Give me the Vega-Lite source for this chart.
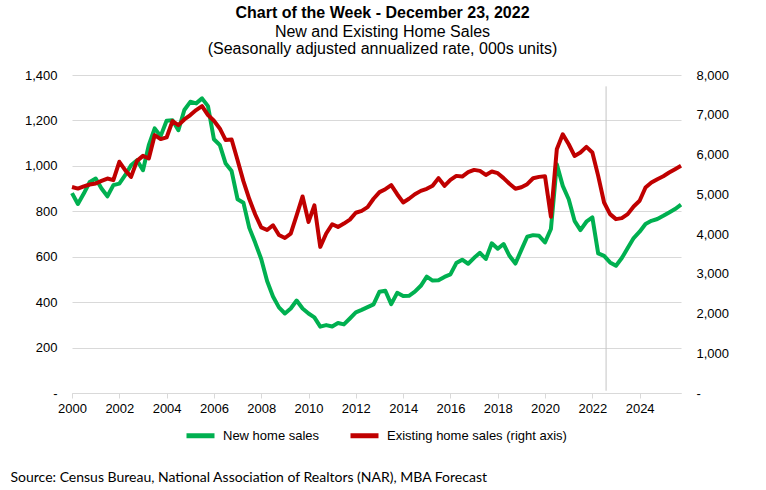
{
"$schema": "https://vega.github.io/schema/vega-lite/v6.json",
"width": 609, "height": 318,
"autosize": {"type": "none"},
"padding": {"left": 72, "top": 75, "right": 85, "bottom": 97},
"background": "white",
"title": {"text": "Chart of the Week - December 23, 2022", "subtitle": ["New and Existing Home Sales", "(Seasonally adjusted annualized rate, 000s units)"], "anchor": "middle", "dx": 6, "offset": 12, "font": "Liberation Sans", "fontSize": 16, "fontWeight": "bold", "color": "#000", "subtitleFont": "Liberation Sans", "subtitleFontSize": 16, "subtitleColor": "#000", "subtitleLineHeight": 17, "subtitlePadding": 3},
"data": {"values": [
{"date":"2000-01-01","new":880,"existing":5183},
{"date":"2000-04-01","new":832,"existing":5143},
{"date":"2000-07-01","new":878,"existing":5200},
{"date":"2000-10-01","new":929,"existing":5245},
{"date":"2001-01-01","new":944,"existing":5270},
{"date":"2001-04-01","new":900,"existing":5336},
{"date":"2001-07-01","new":866,"existing":5395},
{"date":"2001-10-01","new":915,"existing":5355},
{"date":"2002-01-01","new":922,"existing":5817},
{"date":"2002-04-01","new":959,"existing":5606},
{"date":"2002-07-01","new":1003,"existing":5437},
{"date":"2002-10-01","new":1025,"existing":5840},
{"date":"2003-01-01","new":981,"existing":5966},
{"date":"2003-04-01","new":1091,"existing":5899},
{"date":"2003-07-01","new":1165,"existing":6487},
{"date":"2003-10-01","new":1131,"existing":6387},
{"date":"2004-01-01","new":1199,"existing":6429},
{"date":"2004-04-01","new":1201,"existing":6840},
{"date":"2004-07-01","new":1157,"existing":6739},
{"date":"2004-10-01","new":1246,"existing":6882},
{"date":"2005-01-01","new":1282,"existing":6992},
{"date":"2005-04-01","new":1275,"existing":7118},
{"date":"2005-07-01","new":1297,"existing":7219},
{"date":"2005-10-01","new":1263,"existing":6992},
{"date":"2006-01-01","new":1117,"existing":6849},
{"date":"2006-04-01","new":1092,"existing":6656},
{"date":"2006-07-01","new":1010,"existing":6362},
{"date":"2006-10-01","new":977,"existing":6378},
{"date":"2007-01-01","new":853,"existing":5855},
{"date":"2007-04-01","new":838,"existing":5330},
{"date":"2007-07-01","new":727,"existing":4880},
{"date":"2007-10-01","new":661,"existing":4490},
{"date":"2008-01-01","new":590,"existing":4165},
{"date":"2008-04-01","new":493,"existing":4100},
{"date":"2008-07-01","new":425,"existing":4220},
{"date":"2008-10-01","new":377,"existing":3975},
{"date":"2009-01-01","new":350,"existing":3900},
{"date":"2009-04-01","new":372,"existing":4010},
{"date":"2009-07-01","new":407,"existing":4470},
{"date":"2009-10-01","new":372,"existing":4945},
{"date":"2010-01-01","new":350,"existing":4303},
{"date":"2010-04-01","new":333,"existing":4721},
{"date":"2010-07-01","new":292,"existing":3676},
{"date":"2010-10-01","new":299,"existing":4012},
{"date":"2011-01-01","new":293,"existing":4246},
{"date":"2011-04-01","new":308,"existing":4179},
{"date":"2011-07-01","new":302,"existing":4263},
{"date":"2011-10-01","new":328,"existing":4362},
{"date":"2012-01-01","new":355,"existing":4535},
{"date":"2012-04-01","new":366,"existing":4581},
{"date":"2012-07-01","new":378,"existing":4675},
{"date":"2012-10-01","new":390,"existing":4886},
{"date":"2013-01-01","new":446,"existing":5053},
{"date":"2013-04-01","new":450,"existing":5127},
{"date":"2013-07-01","new":391,"existing":5228},
{"date":"2013-10-01","new":441,"existing":5001},
{"date":"2014-01-01","new":427,"existing":4794},
{"date":"2014-04-01","new":428,"existing":4886},
{"date":"2014-07-01","new":446,"existing":5001},
{"date":"2014-10-01","new":472,"existing":5085},
{"date":"2015-01-01","new":512,"existing":5136},
{"date":"2015-04-01","new":495,"existing":5212},
{"date":"2015-07-01","new":496,"existing":5406},
{"date":"2015-10-01","new":511,"existing":5212},
{"date":"2016-01-01","new":522,"existing":5361},
{"date":"2016-04-01","new":572,"existing":5462},
{"date":"2016-07-01","new":587,"existing":5446},
{"date":"2016-10-01","new":569,"existing":5555},
{"date":"2017-01-01","new":595,"existing":5613},
{"date":"2017-04-01","new":617,"existing":5588},
{"date":"2017-07-01","new":590,"existing":5487},
{"date":"2017-10-01","new":659,"existing":5571},
{"date":"2018-01-01","new":635,"existing":5530},
{"date":"2018-04-01","new":656,"existing":5406},
{"date":"2018-07-01","new":604,"existing":5264},
{"date":"2018-10-01","new":570,"existing":5140},
{"date":"2019-01-01","new":630,"existing":5175},
{"date":"2019-04-01","new":688,"existing":5253},
{"date":"2019-07-01","new":695,"existing":5403},
{"date":"2019-10-01","new":692,"existing":5437},
{"date":"2020-01-01","new":663,"existing":5454},
{"date":"2020-04-01","new":722,"existing":4434},
{"date":"2020-07-01","new":1007,"existing":6130},
{"date":"2020-10-01","new":912,"existing":6509},
{"date":"2021-01-01","new":853,"existing":6258},
{"date":"2021-04-01","new":758,"existing":5965},
{"date":"2021-07-01","new":717,"existing":6049},
{"date":"2021-10-01","new":754,"existing":6193},
{"date":"2022-01-01","new":773,"existing":6049},
{"date":"2022-04-01","new":615,"existing":5462},
{"date":"2022-07-01","new":604,"existing":4793},
{"date":"2022-10-01","new":575,"existing":4500},
{"date":"2023-01-01","new":560,"existing":4374},
{"date":"2023-04-01","new":594,"existing":4400},
{"date":"2023-07-01","new":638,"existing":4500},
{"date":"2023-10-01","new":682,"existing":4692},
{"date":"2024-01-01","new":710,"existing":4835},
{"date":"2024-04-01","new":744,"existing":5170},
{"date":"2024-07-01","new":758,"existing":5295},
{"date":"2024-10-01","new":766,"existing":5379},
{"date":"2025-01-01","new":780,"existing":5454},
{"date":"2025-04-01","new":795,"existing":5546},
{"date":"2025-07-01","new":810,"existing":5630},
{"date":"2025-10-01","new":829,"existing":5714}
]},
"encoding": {
  "x": {"field": "date", "type": "temporal", "scale": {"type": "utc", "nice": false},
    "axis": {"title": "Source: Census Bureau, National Association of Realtors (NAR), MBA Forecast", "format": "%Y", "tickCount": {"interval": "year", "step": 2}, "grid": false, "domain": true, "domainColor": "#d9d9d9", "domainWidth": 1, "ticks": true, "tickColor": "#d9d9d9", "tickSize": 5, "labelPadding": 4, "labelFontSize": 13, "labelColor": "#000", "labelFont": "Liberation Sans", "labelFlush": false, "labelOverlap": false, "titleFont": "Lato", "titleFontSize": 14, "titleFontWeight": "normal", "titleColor": "#000", "titleAnchor": "start", "titleAlign": "left", "titleX": -62, "titleY": 84, "titleBaseline": "middle"}}
},
"layer": [
  {"data": {"values": [{"date": "2022-08-01"}]},
   "mark": {"type": "rule", "color": "#c4c4c4", "strokeWidth": 1},
   "encoding": {"y": {"datum": 1350, "type": "quantitative", "scale": {"domain": [0, 1400], "nice": false}, "axis": null}, "y2": {"datum": 10}}},
  {"mark": {"type": "line", "strokeWidth": 4, "strokeJoin": "round"},
   "encoding": {
     "y": {"field": "new", "type": "quantitative", "scale": {"domain": [0, 1400], "nice": false},
       "axis": {"orient": "left", "title": null, "values": [0,200,400,600,800,1000,1200,1400], "grid": true, "gridColor": "#d9d9d9", "gridWidth": 1, "domain": false, "ticks": false, "labelPadding": 15, "labelFontSize": 13, "labelFont": "Liberation Sans", "labelColor": "#000", "labelExpr": "datum.value == 0 ? '-\u00a0\u00a0' : format(datum.value, ',')"}},
     "color": {"datum": "New home sales", "type": "nominal",
       "scale": {"domain": ["New home sales", "Existing home sales (right axis)"], "range": ["#00B050", "#C00000"]},
       "legend": {"orient": "none", "legendX": 112, "legendY": 344, "direction": "horizontal", "title": null, "symbolType": "stroke", "symbolStrokeWidth": 5, "symbolSize": 784, "labelFontSize": 13, "labelFont": "Liberation Sans", "labelColor": "#000", "columnPadding": 20, "labelOffset": 6, "labelLimit": 400}}
   }},
  {"mark": {"type": "line", "strokeWidth": 4, "strokeJoin": "round"},
   "encoding": {
     "y": {"field": "existing", "type": "quantitative", "scale": {"domain": [0, 8000], "nice": false},
       "axis": {"orient": "right", "title": null, "values": [0,1000,2000,3000,4000,5000,6000,7000,8000], "grid": false, "domain": false, "ticks": false, "labelPadding": 15, "labelFontSize": 13, "labelFont": "Liberation Sans", "labelColor": "#000", "labelExpr": "datum.value == 0 ? '\u00a0-' : format(datum.value, ',')"}},
     "color": {"datum": "Existing home sales (right axis)", "type": "nominal"}
   }}
],
"resolve": {"scale": {"y": "independent"}},
"config": {"view": {"stroke": null}}
}
